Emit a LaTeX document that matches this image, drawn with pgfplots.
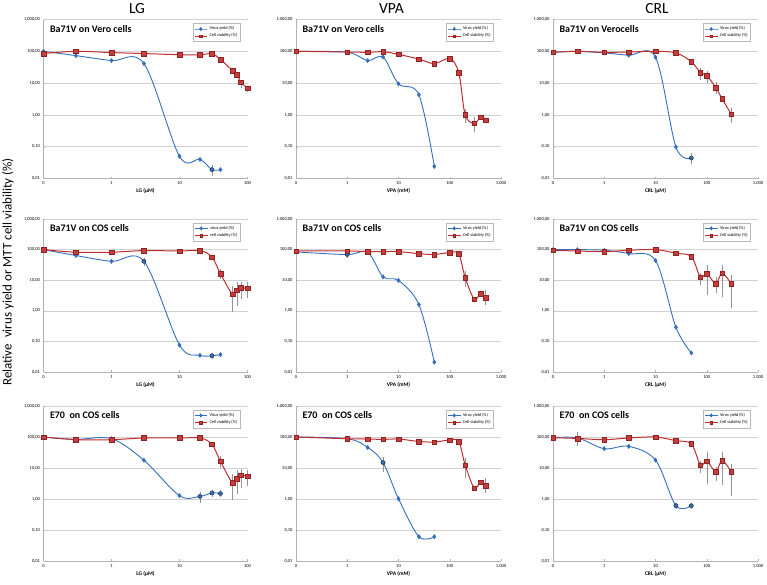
\documentclass[border=0pt]{standalone}
\usepackage{fontspec}
\setmainfont{Carlito}
\usepackage{pgfplots}
\pgfplotsset{compat=1.18}
\definecolor{vblue}{RGB}{52,110,190}
\definecolor{cred}{RGB}{192,45,45}
\newcommand\Panel[4]{%
\begin{axis}[scale only axis, xmode=log, ymode=log, xmin=0.1, ymin=0.01, ymax=1000,
   axis x line*=bottom, axis y line*=left, axis line style={draw=gray!60},
   ymajorgrids, grid style={gray!35, line width=0.5pt},
   ytick={0.01,0.1,1,10,100,1000},
   yticklabels={\textrm{0,01},\textrm{0,10},\textrm{1,00},\textrm{10,00},\textrm{100,00},\textrm{1.000,00}},
   xminorticks=false, yminorticks=false,
   tick style={draw=gray!60}, major tick length=2pt,
   ticklabel style={font=\fontsize{4.5}{5}\selectfont},
   xlabel style={font=\bfseries\fontsize{5.5}{6}\selectfont, yshift=3pt},
   clip=false,
   legend style={at={(0.965,0.975)}, anchor=north east, draw=gray!55,
     font=\fontsize{4.3}{5}\selectfont, inner sep=1pt, row sep=-1.5pt, cells={anchor=west}},
   legend image code/.code={\draw[mark repeat=2,mark phase=2,##1,mark size=1.4pt] plot coordinates {(0cm,0cm) (0.22cm,0cm) (0.44cm,0cm)};},
   #1, at={#2}, anchor=north west, height=#3]
#4
\end{axis}}
\tikzset{
 vy/.style={color=vblue, line width=0.9pt, smooth, tension=0.55, mark=diamond*, mark size=1.8pt, mark options={fill=vblue, draw=vblue}},
 cv/.style={color=cred, line width=1pt, smooth, tension=0.55, mark=square*, mark size=2.3pt, mark options={fill=cred!92!white, draw=cred!75!black, line width=0.4pt}},
}
\newcommand\ptitle[1]{\node[anchor=west, xshift=3pt, yshift=-9.5pt, font=\bfseries\fontsize{10}{10}\selectfont] at (rel axis cs:0,1) {#1};}
\begin{document}
\begin{tikzpicture}
\path[use as bounding box] (0,0) rectangle (767pt,-584pt);
\node[font=\fontsize{15.5}{16}\selectfont] at (137pt,-8.5pt) {LG};
\node[font=\fontsize{15.5}{16}\selectfont] at (391.5pt,-8.5pt) {VPA};
\node[font=\fontsize{15.5}{16}\selectfont] at (657pt,-8.5pt) {CRL};
\node[rotate=90, font=\fontsize{13}{13}\selectfont] at (8pt,-272pt) {Relative\ \ virus yield or MTT cell viability (\%)};

% ---------- Row 1 ----------
\Panel{xmax=100, xtick={0.1,1,10,100}, xticklabels={\textrm{0},\textrm{1},\textrm{10},\textrm{100}}, width=204pt, xlabel={LG (µM)}}{(43.5pt,-19.5pt)}{159pt}{
\addplot[forget plot, only marks, mark=none, error bars/y dir=both, error bars/y explicit, error bars/error bar style={draw=gray!85, line width=0.35pt}, error bars/error mark options={mark size=0.9pt, draw=gray!85}] coordinates {(30,0.019) += (0,0.006) -= (0,0.006) (80,10.6) += (0,1) -= (0,3) (100,7) += (0,0.5) -= (0,1.5)};
\addplot[vy] coordinates {(0.1,100)(0.3,73)(1,51)(3,41)(10,0.05)(20,0.04)(30,0.019)(40,0.019)};
\addplot[cv] coordinates {(0.1,85)(0.3,100)(1,91)(3,85)(10,78)(20,77)(30,85)(40,55)(60,25)(70,18.5)(80,10.6)(100,7)};
\legend{Virus yield (\%), Cell viability (\%)}
\ptitle{Ba71V on Vero cells}}

\Panel{xmax=1000, xtick={0.1,1,10,100,1000}, xticklabels={\textrm{0},\textrm{1},\textrm{10},\textrm{100},\textrm{1.000}}, width=205pt, xlabel={VPA (mM)}}{(296pt,-19.5pt)}{159pt}{
\addplot[forget plot, only marks, mark=none, error bars/y dir=both, error bars/y explicit, error bars/error bar style={draw=gray!85, line width=0.35pt}, error bars/error mark options={mark size=0.9pt, draw=gray!85}] coordinates {(200,1.0) += (0,0.4) -= (0,0.4) (300,0.55) += (0,0.25) -= (0,0.25)};
\addplot[vy] coordinates {(0.1,100)(1,93)(2.5,51)(5,66)(10,9.5)(25,4.3)(50,0.024)};
\addplot[cv] coordinates {(0.1,100)(1,95)(2.5,93)(5,97)(10,80)(25,57)(50,41)(100,59)(150,21)(200,1.0)(300,0.55)(400,0.84)(500,0.69)};
\legend{Virus yield (\%), Cell viability (\%)}
\ptitle{Ba71V on Vero cells}}

\Panel{xmax=1000, xtick={0.1,1,10,100,1000}, xticklabels={\textrm{0},\textrm{1},\textrm{10},\textrm{100},\textrm{1.000}}, width=205pt, xlabel={CRL (µM)}}{(553pt,-19.5pt)}{159pt}{
\addplot[forget plot, only marks, mark=none, error bars/y dir=both, error bars/y explicit, error bars/error bar style={draw=gray!85, line width=0.35pt}, error bars/error mark options={mark size=0.9pt, draw=gray!85}] coordinates {(50,0.044) += (0,0.014) -= (0,0.014) (75,21.6) += (0,7) -= (0,8) (100,17) += (0,5) -= (0,6) (150,7.2) += (0,2.8) -= (0,2.2) (300,1.05) += (0,0.45) -= (0,0.45)};
\addplot[vy] coordinates {(0.1,93)(0.3,100)(1,89)(3,75)(10,65)(25,0.098)(50,0.044)};
\addplot[cv] coordinates {(0.1,93)(0.3,100)(1,93)(3,95)(10,100)(25,89)(50,47)(75,21.6)(100,17)(150,7.2)(200,3.2)(300,1.05)};
\legend{Virus yield (\%), Cell viability (\%)}
\ptitle{Ba71V on Verocells}}

% ---------- Row 2 ----------
\Panel{xmax=100, xtick={0.1,1,10,100}, xticklabels={\textrm{0},\textrm{1},\textrm{10},\textrm{100}}, width=204pt, xlabel={LG (µM)}}{(43.5pt,-219pt)}{153pt}{
\addplot[forget plot, only marks, mark=none, error bars/y dir=both, error bars/y explicit, error bars/error bar style={draw=gray!85, line width=0.35pt}, error bars/error mark options={mark size=0.9pt, draw=gray!85}] coordinates {(3,41.5) += (0,10) -= (0,10) (30,0.034) += (0,0.005) -= (0,0.005) (40,16.3) += (0,6) -= (0,5) (60,3.5) += (0,2.5) -= (0,2.5) (70,4.7) += (0,3.3) -= (0,3.2) (80,5.6) += (0,2.6) -= (0,3) (100,5.4) += (0,2.6) -= (0,2.6)};
\addplot[vy] coordinates {(0.1,100)(0.3,64)(1,41.5)(3,41.5)(10,0.076)(20,0.035)(30,0.034)(40,0.037)};
\addplot[cv] coordinates {(0.1,100)(0.3,82)(1,82)(3,93)(10,90)(20,93)(30,57)(40,16.3)(60,3.5)(70,4.7)(80,5.6)(100,5.4)};
\legend{virus yield (\%), cell viability (\%)}
\ptitle{Ba71V on COS cells}}

\Panel{xmax=1000, xtick={0.1,1,10,100,1000}, xticklabels={\textrm{0},\textrm{1},\textrm{10},\textrm{100},\textrm{1.000}}, width=205pt, xlabel={VPA (mM)}}{(296pt,-219pt)}{153pt}{
\addplot[forget plot, only marks, mark=none, error bars/y dir=both, error bars/y explicit, error bars/error bar style={draw=gray!85, line width=0.35pt}, error bars/error mark options={mark size=0.9pt, draw=gray!85}] coordinates {(1,69) += (0,8) -= (0,14) (200,12.2) += (0,6) -= (0,6) (500,2.7) += (0,1.8) -= (0,1)};
\addplot[vy] coordinates {(0.1,84)(1,69)(2.5,82)(5,12.8)(10,9.8)(25,1.6)(50,0.021)};
\addplot[cv] coordinates {(0.1,90)(1,90)(2.5,86)(5,86)(10,86)(25,74)(50,69)(100,80)(150,72)(200,12.2)(300,2.4)(400,3.6)(500,2.7)};
\legend{Virus yield (\%), Cell viability (\%)}
\ptitle{Ba71V on COS cells}}

\Panel{xmax=1000, xtick={0.1,1,10,100,1000}, xticklabels={\textrm{0},\textrm{1},\textrm{10},\textrm{100},\textrm{1.000}}, width=205pt, xlabel={CRL (µM)}}{(553pt,-219pt)}{153pt}{
\addplot[forget plot, only marks, mark=none, error bars/y dir=both, error bars/y explicit, error bars/error bar style={draw=gray!85, line width=0.35pt}, error bars/error mark options={mark size=0.9pt, draw=gray!85}] coordinates {(75,12.5) += (0,3.5) -= (0,5) (100,16.3) += (0,13.7) -= (0,12.8) (150,7.8) += (0,4.2) -= (0,3.8) (200,17) += (0,13) -= (0,14) (300,7.6) += (0,6.4) -= (0,6.3)};
\addplot[vy] coordinates {(0.1,100)(0.3,100)(1,95)(3,74)(10,44)(25,0.29)(50,0.042)};
\addplot[cv] coordinates {(0.1,95)(0.3,90)(1,86)(3,95)(10,100)(25,76)(50,59)(75,12.5)(100,16.3)(150,7.8)(200,17)(300,7.6)};
\legend{Virus yield (\%), Cell viability (\%)}
\ptitle{Ba71V on COS cells}}

% ---------- Row 3 ----------
\Panel{xmax=100, xtick={0.1,1,10,100}, xticklabels={\textrm{0},\textrm{1},\textrm{10},\textrm{100}}, width=204pt, xlabel={LG (µM)}}{(43.5pt,-406pt)}{155pt}{
\addplot[forget plot, only marks, mark=none, error bars/y dir=both, error bars/y explicit, error bars/error bar style={draw=gray!85, line width=0.35pt}, error bars/error mark options={mark size=0.9pt, draw=gray!85}] coordinates {(20,1.22) += (0,0.4) -= (0,0.4) (30,1.57) += (0,0.3) -= (0,0.3) (40,1.5) += (0,0.3) -= (0,0.3) (40,16.5) += (0,6) -= (0,5.5) (60,3.3) += (0,2.7) -= (0,2.3) (70,4.5) += (0,3.5) -= (0,2.9) (80,5.8) += (0,2.7) -= (0,3.3) (100,5.4) += (0,2.6) -= (0,2.6)};
\addplot[vy] coordinates {(0.1,100)(0.3,84)(1,88)(3,17.8)(10,1.28)(20,1.22)(30,1.57)(40,1.5)};
\addplot[cv] coordinates {(0.1,100)(0.3,82)(1,82)(3,93)(10,93)(20,93)(30,58)(40,16.5)(60,3.3)(70,4.5)(80,5.8)(100,5.4)};
\legend{Virus yield (\%), Cell viability (\%)}
\ptitle{E70\ \ on COS cells}}

\Panel{xmax=1000, xtick={0.1,1,10,100,1000}, xticklabels={\textrm{0},\textrm{1},\textrm{10},\textrm{100},\textrm{1.000}}, width=205pt, xlabel={VPA (mM)}}{(296pt,-406pt)}{155pt}{
\addplot[forget plot, only marks, mark=none, error bars/y dir=both, error bars/y explicit, error bars/error bar style={draw=gray!85, line width=0.35pt}, error bars/error mark options={mark size=0.9pt, draw=gray!85}] coordinates {(5,14.9) += (0,7) -= (0,7) (200,12.5) += (0,7.5) -= (0,7.5) (500,2.7) += (0,1.8) -= (0,1)};
\addplot[vy] coordinates {(0.1,100)(1,88)(2.5,46)(5,14.9)(10,1.02)(25,0.061)(50,0.061)};
\addplot[cv] coordinates {(0.1,100)(1,88)(2.5,86)(5,84)(10,86)(25,72)(50,69)(100,80)(150,71)(200,12.5)(300,2.26)(400,3.5)(500,2.7)};
\legend{Virus yield (\%), Cell viability (\%)}
\ptitle{E70\ \ on COS cells}}

\Panel{xmax=1000, xtick={0.1,1,10,100,1000}, xticklabels={\textrm{0},\textrm{1},\textrm{10},\textrm{100},\textrm{1.000}}, width=205pt, xlabel={CRL (µM)}}{(553pt,-406pt)}{155pt}{
\addplot[forget plot, only marks, mark=none, error bars/y dir=both, error bars/y explicit, error bars/error bar style={draw=gray!85, line width=0.35pt}, error bars/error mark options={mark size=0.9pt, draw=gray!85}] coordinates {(0.3,90) += (0,45) -= (0,35) (25,0.61) += (0,0.1) -= (0,0.1) (50,0.61) += (0,0.1) -= (0,0.1) (75,12.5) += (0,3.5) -= (0,5) (100,16.5) += (0,13.5) -= (0,13.2) (150,7.7) += (0,2.5) -= (0,3.7) (200,17.5) += (0,12.5) -= (0,14.5) (300,7.5) += (0,5.5) -= (0,6.2)};
\addplot[vy] coordinates {(0.1,95)(0.3,93)(1,42)(3,50)(10,18)(25,0.61)(50,0.61)};
\addplot[cv] coordinates {(0.1,95)(0.3,90)(1,82)(3,93)(10,100)(25,76)(50,60)(75,12.5)(100,16.5)(150,7.7)(200,17.5)(300,7.5)};
\legend{Virus yield (\%), Cell viability (\%)}
\ptitle{E70\ \ on COS cells}}
\end{tikzpicture}
\end{document}
